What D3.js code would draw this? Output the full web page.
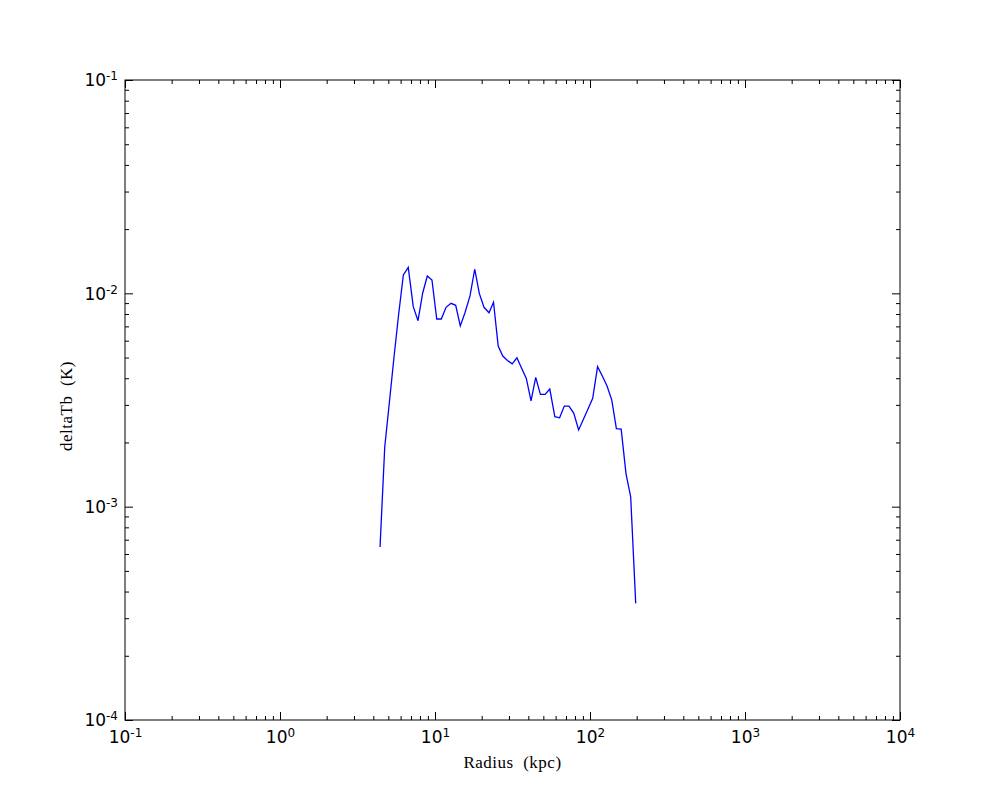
<!DOCTYPE html>
<html>
<head>
<meta charset="utf-8">
<script src="https://cdn.jsdelivr.net/npm/d3@7"></script>
<style>
  body { margin: 0; background: #fff; }
  .tick text { font-family: "DejaVu Sans", sans-serif; font-size: 17px; fill: #000; }
  .axis-label { font-family: "Liberation Serif", "DejaVu Serif", serif; font-size: 17px; letter-spacing: 0.5px; }
</style>
</head>
<body>
<svg width="1000" height="800"></svg>
<script>
// radius bins (kpc) and deltaTb (K)
const radius = [4.42, 4.74, 5.08, 5.44, 5.83, 6.25, 6.72, 7.24, 7.77, 8.33,
    8.92, 9.56, 10.26, 10.98, 11.78, 12.69, 13.60, 14.56, 15.61, 16.82,
    18.04, 19.31, 20.71, 22.31, 23.85, 25.57, 27.38, 29.36, 31.48, 33.77,
    36.21, 38.82, 41.64, 44.64, 47.86, 51.32, 55.03, 59.29, 63.67, 68.28,
    73.19, 78.63, 84.44, 90.54, 97.07, 104.1, 111.9, 120.1, 128.8, 138.2,
    148.0, 158.9, 170.7, 183.0, 197.2];
const deltaTb = [6.47e-4, 1.904e-3, 3.094e-3, 5.03e-3, 8.0e-3, 1.219e-2, 1.324e-2, 8.66e-3, 7.44e-3, 1.004e-2,
    1.206e-2, 1.155e-2, 7.58e-3, 7.58e-3, 8.60e-3, 8.98e-3, 8.79e-3, 7.03e-3, 8.11e-3, 9.72e-3,
    1.297e-2, 1.0e-2, 8.60e-3, 8.11e-3, 9.08e-3, 5.66e-3, 5.08e-3, 4.84e-3, 4.67e-3, 4.99e-3,
    4.45e-3, 3.99e-3, 3.13e-3, 4.04e-3, 3.36e-3, 3.36e-3, 3.56e-3, 2.64e-3, 2.61e-3, 2.96e-3,
    2.96e-3, 2.74e-3, 2.29e-3, 2.56e-3, 2.87e-3, 3.22e-3, 4.53e-3, 4.10e-3, 3.68e-3, 3.16e-3,
    2.32e-3, 2.31e-3, 1.43e-3, 1.113e-3, 3.52e-4];

const xTicks = [-1, 0, 1, 2, 3, 4];   // exponents
const yTicks = [-4, -3, -2, -1];

const margin = {top: 80, right: 100, bottom: 80, left: 125},
      width = 1000 - margin.left - margin.right,
      height = 800 - margin.top - margin.bottom;

const svg = d3.select("svg")
  .append("g")
    .attr("transform", `translate(${margin.left},${margin.top})`);

const x = d3.scaleLog().domain([1e-1, 1e4]).range([0, width]);
const y = d3.scaleLog().domain([1e-4, 1e-1]).range([height, 0]);

// minor ticks 2..9 in every decade
function minors(lo, hi) {
    const out = [];
    for (let e = lo; e < hi; e++)
        for (let m = 2; m <= 9; m++) out.push(m * Math.pow(10, e));
    return out;
}
const xMinor = minors(-1, 4), yMinor = minors(-4, -1);

function supLabel(sel, exps) {
    sel.selectAll(".tick text").each(function(d, i) {
        const t = d3.select(this).text("");
        t.append("tspan").text("10");
        t.append("tspan").attr("dy", "-0.5em").style("font-size", "12px").text(exps[i]);
    });
}

// bottom
const gb = svg.append("g").attr("transform", `translate(0,${height})`)
    .call(d3.axisBottom(x).tickValues(xTicks.map(e => Math.pow(10, e))).tickSize(-8));
gb.selectAll(".tick text").attr("y", 23).attr("dy", 0);
supLabel(gb, xTicks);
svg.append("g").attr("transform", `translate(0,${height})`)
    .call(d3.axisBottom(x).tickValues(xMinor).tickSize(-4).tickFormat(""));
// top
svg.append("g").call(d3.axisTop(x).tickValues(xTicks.map(e => Math.pow(10, e))).tickSize(-8).tickFormat(""));
svg.append("g").call(d3.axisTop(x).tickValues(xMinor).tickSize(-4).tickFormat(""));
// left
const gl = svg.append("g")
    .call(d3.axisLeft(y).tickValues(yTicks.map(e => Math.pow(10, e))).tickSize(-8));
gl.selectAll(".tick text").attr("x", -7).attr("dy", "0.35em");
supLabel(gl, yTicks);
svg.append("g").call(d3.axisLeft(y).tickValues(yMinor).tickSize(-4).tickFormat(""));
// right
svg.append("g").attr("transform", `translate(${width},0)`)
    .call(d3.axisRight(y).tickValues(yTicks.map(e => Math.pow(10, e))).tickSize(-8).tickFormat(""));
svg.append("g").attr("transform", `translate(${width},0)`)
    .call(d3.axisRight(y).tickValues(yMinor).tickSize(-4).tickFormat(""));

svg.selectAll(".domain").remove();
svg.selectAll(".tick line").attr("stroke", "#000");

// frame
svg.append("rect")
    .attr("width", width).attr("height", height)
    .attr("fill", "none").attr("stroke", "#000").attr("stroke-width", 1);

// the profile
svg.append("path")
    .datum(radius.map((r, i) => ({r, v: deltaTb[i]})))
    .attr("fill", "none")
    .attr("stroke", "#0000ff")
    .attr("stroke-width", 1.3)
    .attr("d", d3.line().x(d => x(d.r)).y(d => y(d.v)));

// axis labels
svg.append("text")
    .attr("class", "axis-label")
    .attr("xml:space", "preserve")
    .attr("x", width / 2).attr("y", height + 48)
    .attr("text-anchor", "middle")
    .text("Radius  (kpc)");

svg.append("text")
    .attr("class", "axis-label")
    .attr("xml:space", "preserve")
    .attr("transform", `translate(-53,${height / 2 + 6}) rotate(-90)`)
    .attr("text-anchor", "middle")
    .text("deltaTb  (K)");
</script>
</body>
</html>
